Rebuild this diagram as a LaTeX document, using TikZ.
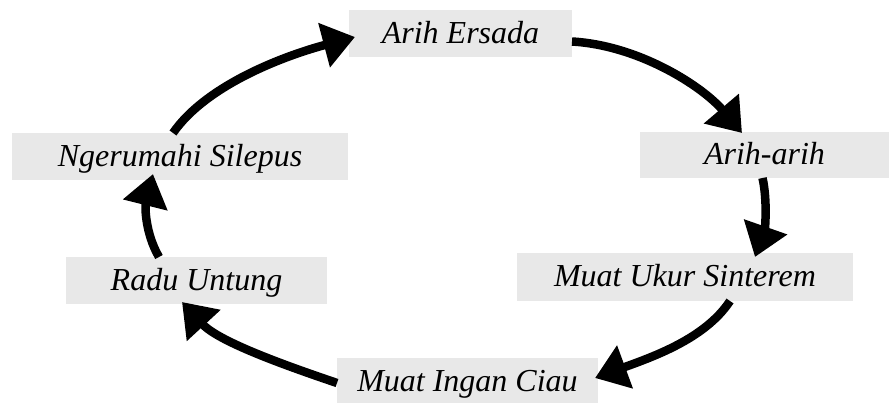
\documentclass[tikz,border=0pt]{standalone}
\usepackage{fontspec}
\setmainfont{Liberation Serif}
\usetikzlibrary{arrows.meta,calc}

\definecolor{boxgray}{RGB}{232,232,232}

\tikzset{
  stage/.style={fill=boxgray, draw=none, inner sep=0pt, outer sep=0pt,
    font=\fontsize{32}{36}\selectfont\itshape,
    text height=22pt, text depth=2pt},
  flow/.style={line width=8.5pt, -{Triangle[length=32pt,width=44pt]}}
}

\begin{document}
\begin{tikzpicture}[x=1pt,y=-1pt]
  \useasboundingbox (0,0) rectangle (889,403);

  % stages of the cycle
  \node[stage, minimum width=223pt, minimum height=47pt] (ae)  at (460.5,33.5)  {Arih Ersada};
  \node[stage, minimum width=249pt, minimum height=46pt] (aa)  at (764.5,155)   {Arih-arih};
  \node[stage, minimum width=336pt, minimum height=48pt] (mus) at (685,277)     {Muat Ukur Sinterem};
  \node[stage, minimum width=261pt, minimum height=47pt] (mic) at (467.5,381.5) {Muat Ingan Ciau};
  \node[stage, minimum width=261pt, minimum height=47pt] (ru)  at (196.5,280.5) {Radu Untung};
  \node[stage, minimum width=336pt, minimum height=47pt] (ns)  at (180,156.5)   {Ngerumahi Silepus};

  % curved arrows running clockwise
  \draw[flow] ($(ns.north)+(-7,0)$)    .. controls +(34,-49) and +(-68,18)  .. ($(ae.west)+(6,3.5)$);
  \draw[flow] ($(ae.east)+(0,8)$)      .. controls +(68,4)   and +(-39,-46) .. ($(aa.north)+(-22.5,1)$);
  \draw[flow] ($(aa.south)+(-2,0)$)    .. controls +(5,22)   and +(10,-28.5) .. ($(mus.north)+(70,4)$);
  \draw[flow] ($(mus.south)+(45,0)$)   .. controls +(-25,38) and +(57,-21)  .. ($(mic.east)+(-3,-3.5)$);
  \draw[flow] ($(mic.west)+(0,1.5)$)   .. controls +(-50,-17) and +(37,40)  .. ($(ru.south)+(-14.5,-2)$);
  \draw[flow] ($(ru.north)+(-37.5,0)$) .. controls +(-14,-24) and +(-8,32)  .. ($(ns.south)+(-27,-6)$);
\end{tikzpicture}
\end{document}
